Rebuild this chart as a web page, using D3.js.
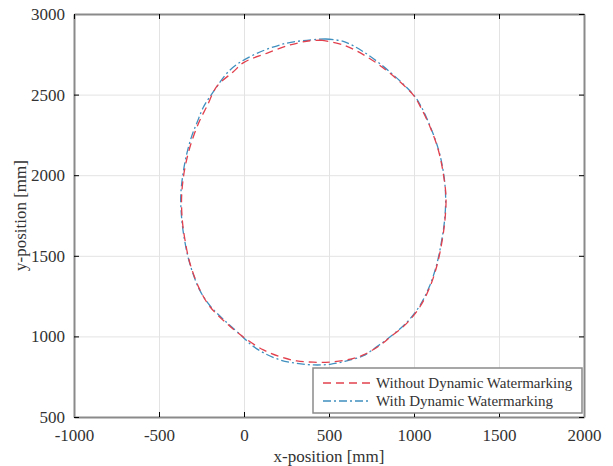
<!DOCTYPE html>
<html>
<head>
<meta charset="utf-8">
<script src="https://cdn.jsdelivr.net/npm/d3@7"></script>
<style>
  body { margin: 0; background: #fff; }
  svg text { font-family: "Liberation Serif", "Times New Roman", serif; fill: #333; }
</style>
</head>
<body>
<svg id="chart" width="613" height="466"></svg>
<script>
// trajectory points [x, y] in mm
const withoutWM = [
  [450,2838],[584,2808],[722,2735],[859,2632],[1000,2492],[1035,2430],[1094,2301],
  [1143,2156],[1172,2012],[1188,1867],[1182,1722],[1163,1578],[1133,1432],[1094,1308],
  [1035,1184],[957,1081],[865,1000],[800,945],[702,885],[604,854],[506,841],[408,840],
  [310,848],[212,874],[114,916],[-4,996],[-102,1081],[-200,1184],[-259,1288],[-318,1454],
  [-347,1598],[-363,1722],[-367,1867],[-353,2012],[-328,2136],[-298,2239],[-259,2342],
  [-219,2425],[-161,2549],[-63,2642],[0,2700],[133,2756],[271,2808],[388,2834],[450,2838]
];
const withWM = [
  [480,2845],[584,2830],[702,2766],[859,2640],[1000,2495],[1040,2430],[1096,2301],
  [1145,2156],[1174,2012],[1186,1867],[1180,1722],[1160,1578],[1130,1432],[1090,1308],
  [1030,1184],[952,1081],[860,998],[780,935],[702,880],[604,848],[506,827],[408,823],
  [310,833],[212,854],[114,899],[40,950],[-10,1000],[-100,1085],[-200,1190],[-262,1290],
  [-320,1456],[-350,1600],[-366,1725],[-372,1870],[-358,2015],[-335,2140],[-305,2250],
  [-275,2330],[-240,2420],[-180,2518],[-82,2653],[35,2735],[231,2814],[428,2843],[480,2845]
];
const xTicks = [-1000, -500, 0, 500, 1000, 1500, 2000];
const yTicks = [500, 1000, 1500, 2000, 2500, 3000];
const seriesNames = ["Without Dynamic Watermarking", "With Dynamic Watermarking"];

const box = {left: 74, right: 584, top: 14, bottom: 417};
const svg = d3.select("#chart");
const fmt = d => String(d);

var x = d3.scaleLinear().domain([-1000, 2000]).range([box.left, box.right]);
var y = d3.scaleLinear().domain([500, 3000]).range([box.bottom, box.top]);

// grid lines
svg.append("g")
  .attr("transform", `translate(0,${box.bottom})`)
  .call(d3.axisBottom(x).tickValues(xTicks).tickSize(-(box.bottom - box.top)).tickFormat(""))
  .call(g => g.select(".domain").remove())
  .selectAll("line").attr("stroke", "#e3e3e3");
svg.append("g")
  .attr("transform", `translate(${box.left},0)`)
  .call(d3.axisLeft(y).tickValues(yTicks).tickSize(-(box.right - box.left)).tickFormat(""))
  .call(g => g.select(".domain").remove())
  .selectAll("line").attr("stroke", "#e3e3e3");

// the two trajectories
var line = d3.line().x(d => x(d[0])).y(d => y(d[1])).curve(d3.curveCatmullRom);
svg.append("path").datum(withWM)
  .attr("d", line).attr("fill", "none")
  .attr("stroke", "#3f8fbf").attr("stroke-width", 1.3)
  .attr("stroke-dasharray", "8,3,2,3");
svg.append("path").datum(withoutWM)
  .attr("d", line).attr("fill", "none")
  .attr("stroke", "#e2404d").attr("stroke-width", 1.3)
  .attr("stroke-dasharray", "8,5");

// axes with inside ticks, box on all sides
svg.append("g").attr("transform", `translate(0,${box.bottom})`)
  .call(d3.axisBottom(x).tickValues(xTicks).tickFormat(fmt).tickSizeInner(-5).tickSizeOuter(0).tickPadding(12));
svg.append("g").attr("transform", `translate(${box.left},0)`)
  .call(d3.axisLeft(y).tickValues(yTicks).tickFormat(fmt).tickSizeInner(-5).tickSizeOuter(0).tickPadding(9));
svg.append("g").attr("transform", `translate(0,${box.top})`)
  .call(d3.axisTop(x).tickValues(xTicks).tickSizeInner(-5).tickSizeOuter(0).tickFormat(""));
svg.append("g").attr("transform", `translate(${box.right},0)`)
  .call(d3.axisRight(y).tickValues(yTicks).tickSizeInner(-5).tickSizeOuter(0).tickFormat(""));
svg.selectAll(".domain").attr("stroke", "#8a8a8a").attr("stroke-width", 2);
svg.selectAll(".tick text").style("font-size", "17px").attr("fill", "#333");

// axis titles
svg.append("text").attr("x", (box.left + box.right) / 2).attr("y", 462)
  .attr("text-anchor", "middle").style("font-size", "17px").text("x-position [mm]");
svg.append("text").attr("transform", `translate(26,${(box.top + box.bottom) / 2}) rotate(-90)`)
  .attr("text-anchor", "middle").style("font-size", "17px").text("y-position [mm]");

// legend
var leg = svg.append("g");
leg.append("rect").attr("x", 313).attr("y", 368).attr("width", 269).attr("height", 45)
  .attr("fill", "#fff").attr("stroke", "#8a8a8a").attr("stroke-width", 1.5);
var styles = [["#e2404d", "8,5"], ["#3f8fbf", "8,3,2,3"]];
seriesNames.forEach((name, i) => {
  var yy = 383 + i * 18;
  leg.append("line").attr("x1", 323).attr("x2", 370).attr("y1", yy).attr("y2", yy)
    .attr("stroke", styles[i][0]).attr("stroke-width", 1.3).attr("stroke-dasharray", styles[i][1]);
  leg.append("text").attr("x", 376).attr("y", yy + 5).style("font-size", "15px").text(name);
});
</script>
</body>
</html>
